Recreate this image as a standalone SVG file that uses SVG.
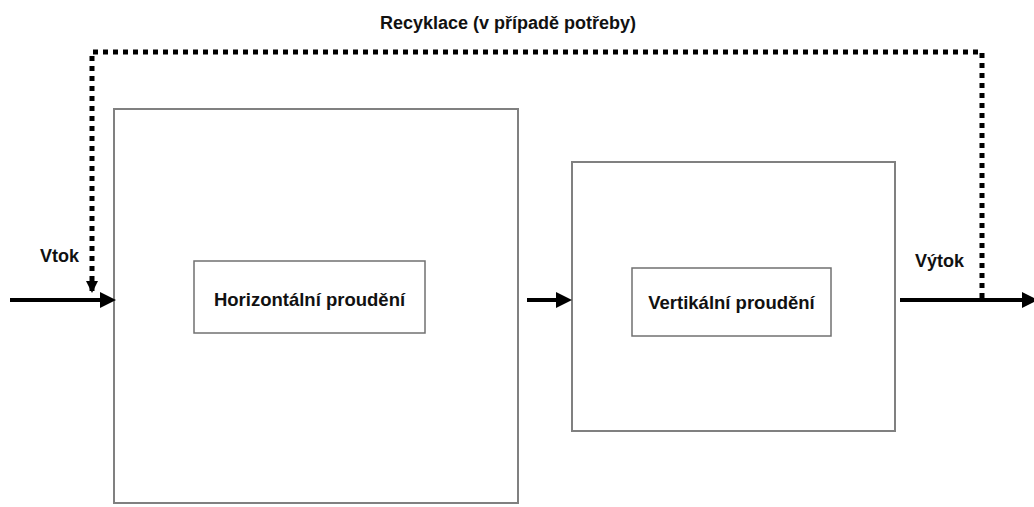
<svg xmlns="http://www.w3.org/2000/svg" width="1034" height="507" viewBox="0 0 1034 507">
<style>
.box{fill:#fff;stroke:#808080;stroke-width:2}
.inner{fill:#fff;stroke:#707070;stroke-width:1.5}
.lbl{font-family:"Liberation Sans",Arial,sans-serif;font-weight:bold;font-size:18px;fill:#111}
.big{font-size:18.5px}
.flow{stroke:#000;stroke-width:4;fill:none}
.dot{stroke:#000;stroke-width:5;stroke-dasharray:5 5;fill:none}
</style>
<defs>
<marker id="ah" markerWidth="4" markerHeight="4" refX="3" refY="2" orient="auto" markerUnits="strokeWidth">
<path d="M0,0 L4,2 L0,4 Z" fill="#000"/>
</marker>
<marker id="ahs" markerWidth="12" markerHeight="12" refX="11" refY="6" orient="auto" markerUnits="userSpaceOnUse">
<path d="M0,0 L12,6 L0,12 Z" fill="#000"/>
</marker>
</defs>
<rect width="1034" height="507" fill="#fff"/>
<g id="node-horizontal">
<rect class="box" x="114" y="109" width="404" height="394"/>
<rect class="inner" x="194" y="261" width="231" height="72"/>
<text class="lbl big" x="309.5" y="306" text-anchor="middle">Horizontální proudění</text>
</g>
<g id="node-vertical">
<rect class="box" x="572" y="162" width="323" height="269"/>
<rect class="inner" x="632" y="268" width="199" height="68"/>
<text class="lbl big" x="731.5" y="309" text-anchor="middle">Vertikální proudění</text>
</g>
<g id="connectors">
<line class="flow" x1="10" y1="300" x2="112" y2="300" marker-end="url(#ah)"/>
<line class="flow" x1="527" y1="300" x2="568" y2="300" marker-end="url(#ah)"/>
<line class="flow" x1="900" y1="300" x2="1034" y2="300" marker-end="url(#ah)"/>
<path class="dot" d="M982,298 L982,52 L92,52 L92,292" marker-end="url(#ahs)"/>
</g>
<g id="labels">
<text class="lbl" x="508" y="29" text-anchor="middle">Recyklace (v případě potřeby)</text>
<text class="lbl" x="40" y="262">Vtok</text>
<text class="lbl" x="915" y="267">Výtok</text>
</g>
</svg>
